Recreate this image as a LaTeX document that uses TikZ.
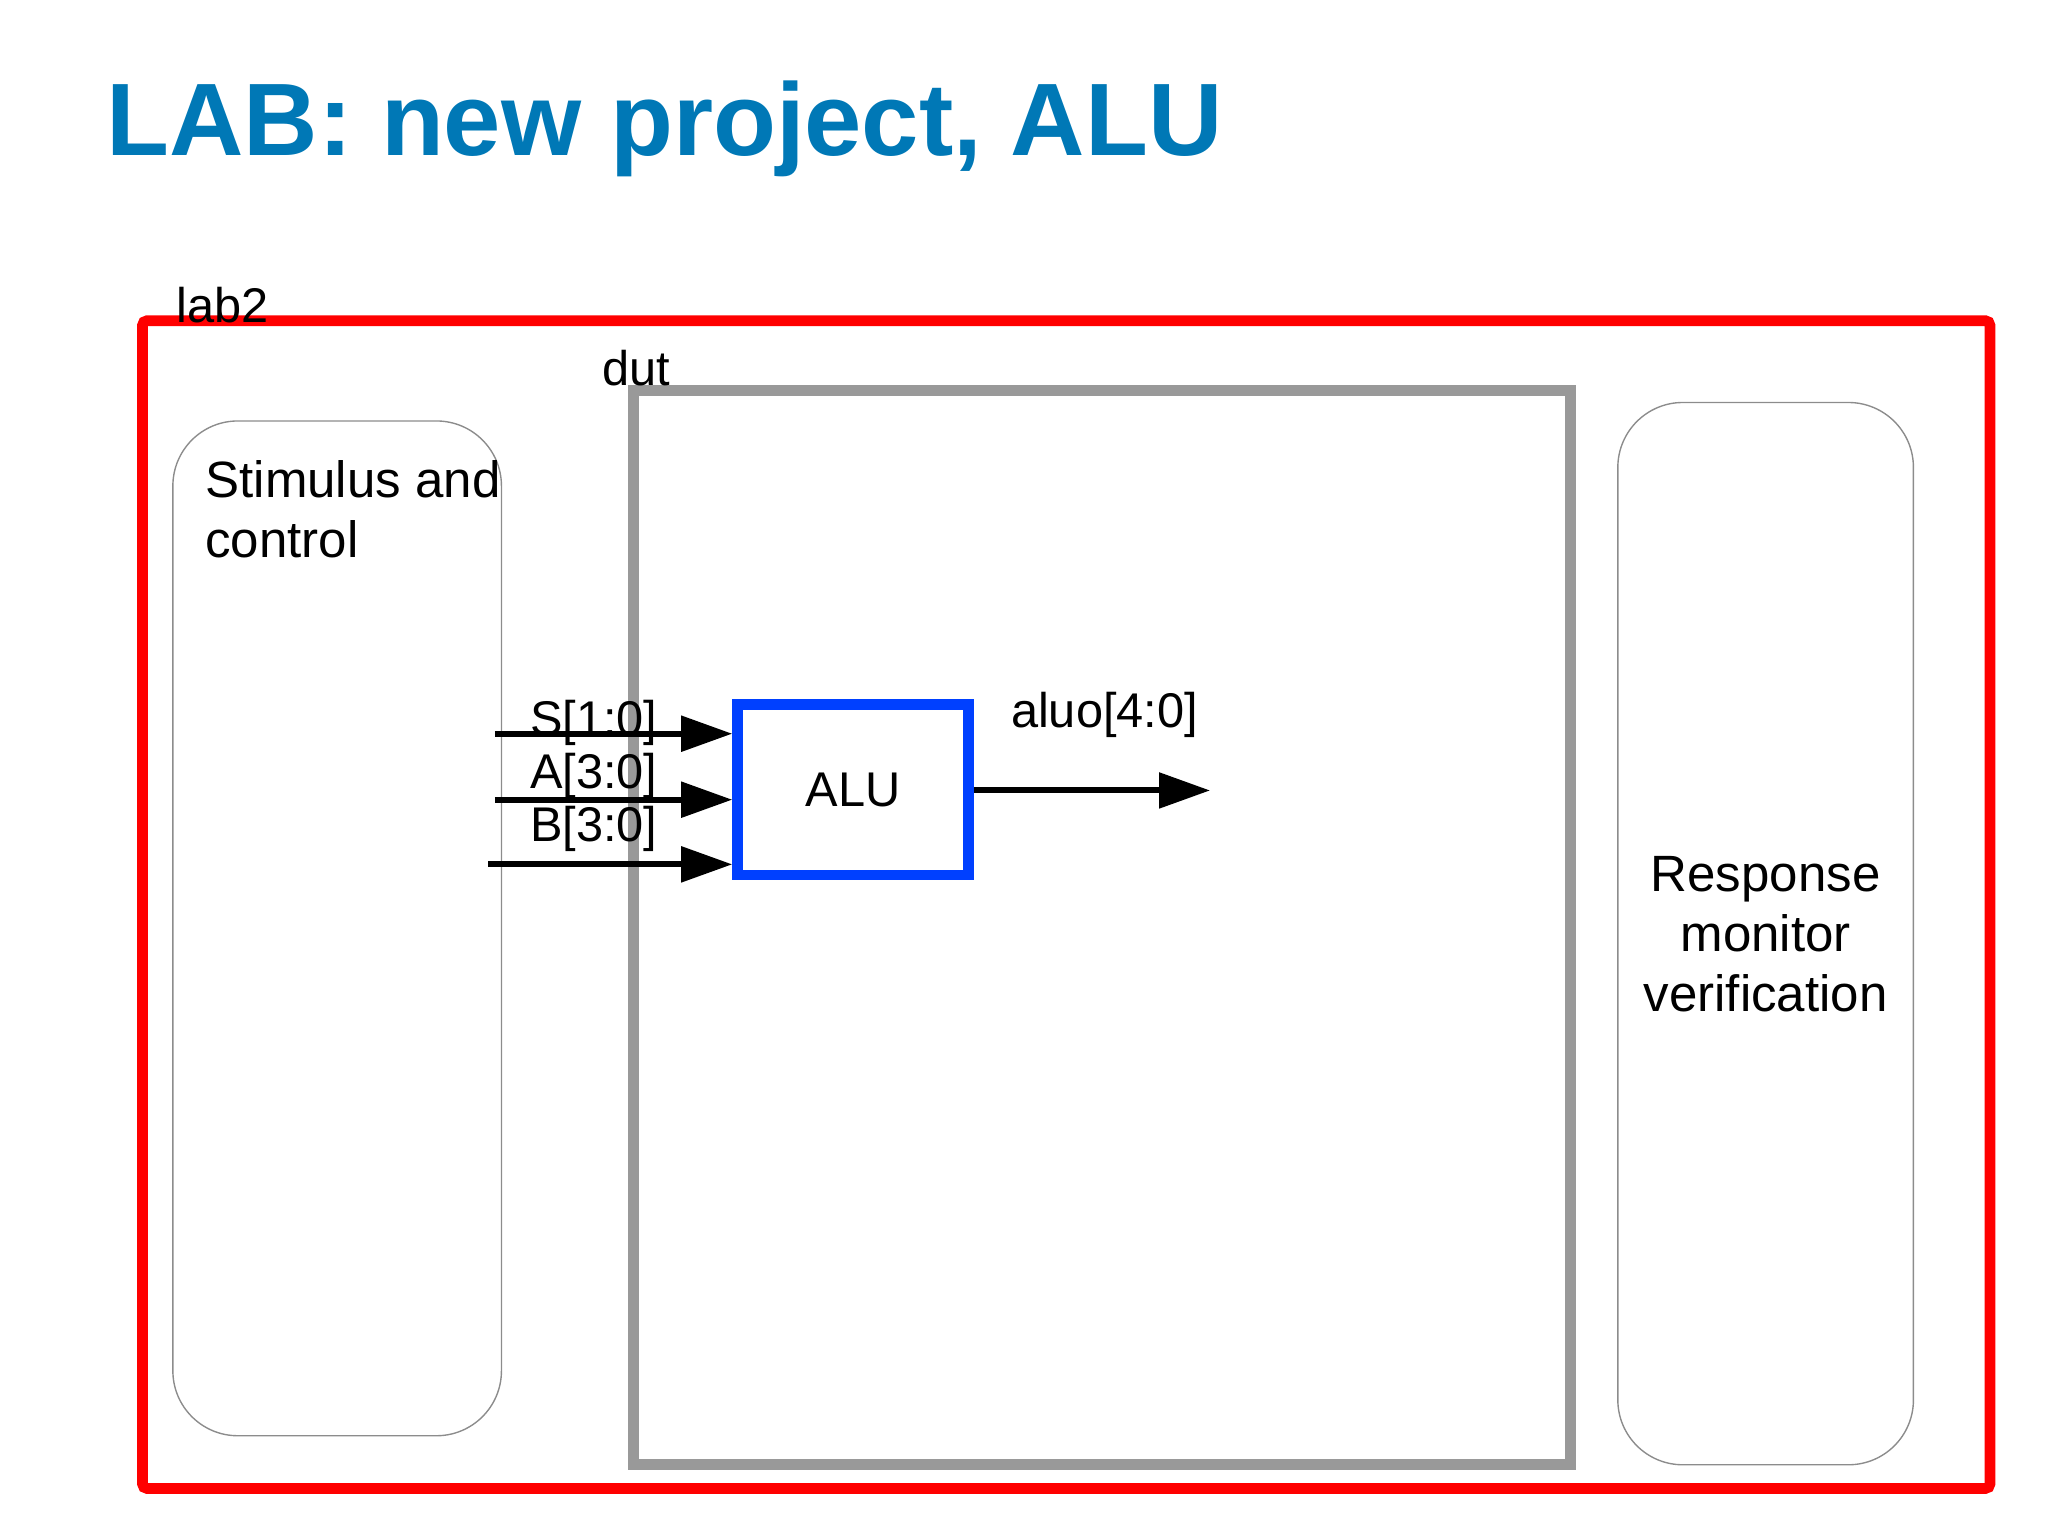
\documentclass[tikz,border=0pt]{standalone}
\usepackage{fontspec}
\setmainfont{Liberation Sans}
\usetikzlibrary{arrows.meta}
\definecolor{titleblue}{RGB}{0,120,182}
\definecolor{alublue}{RGB}{0,64,255}
\begin{document}
\begin{tikzpicture}[x=0.01cm,y=-0.01cm,
  lbl/.style={font=\fontsize{10.5}{12}\selectfont,inner sep=0pt},
  big/.style={font=\fontsize{11}{13}\selectfont,inner sep=0pt},
  sig/.style={line width=1.3pt,-{Triangle[length=11pt,width=7.5pt]}},
  soft/.style={draw=black!45,line width=0.3pt,rounded corners=14pt}]
\useasboundingbox (0,0) rectangle (1552,1163);
\node[anchor=base west,inner sep=0pt,text=titleblue,font=\fontsize{22.2}{26}\selectfont\bfseries] (title) at (80,118) {LAB: new project, ALU};
\draw[red,line width=2.3pt,rounded corners=1pt] (108,243) rectangle (1508,1128);
\node[lbl,anchor=west] (lab2) at (133,231) {lab2};
\draw[black!40,line width=2.3pt] (480,296) rectangle (1190,1110);
\node[lbl,anchor=west] (dutl) at (456,279) {dut};
\draw[soft] (131,319) rectangle (380,1088);
\node[big,anchor=north west,align=left] (stim) at (155,348) {Stimulus and\\control};
\draw[soft] (1226,305) rectangle (1450,1110);
\node[big,align=center] (resp) at (1338,708) {Response\\monitor\\verification};
\node[draw=alublue,line width=2.3pt,inner sep=0pt,
  minimum width=1.75cm,minimum height=1.29cm,lbl] (alu) at (646.5,598.5) {ALU};
\coordinate (s0) at (375,556);
\coordinate (a0) at (375,606);
\coordinate (b0) at (370,655);
\coordinate (out) at (917,599);
\draw[sig] (s0) -- (alu.west |- s0);
\draw[sig] (a0) -- (alu.west |- a0);
\draw[sig] (b0) -- (alu.west |- b0);
\draw[sig] (alu.east |- out) -- (out);
\node[lbl] (sl) at (450,548) {S[1:0]};
\node[lbl] (al) at (450,588) {A[3:0]};
\node[lbl] (bl) at (450,628) {B[3:0]};
\node[lbl] (ol) at (837,542) {aluo[4:0]};
\end{tikzpicture}
\end{document}
